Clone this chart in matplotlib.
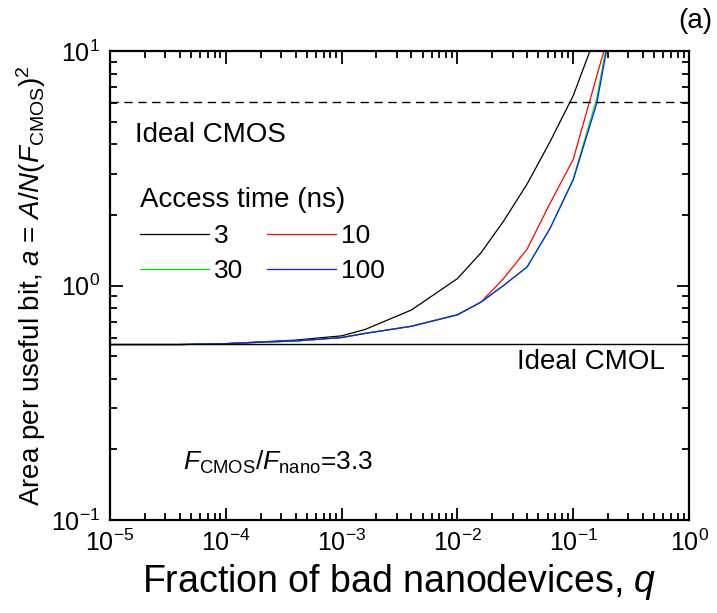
#!/usr/bin/env python3
"""
Area per useful bit vs fraction of bad nanodevices (CMOL memory)
"""
import matplotlib
matplotlib.use("Agg")
import matplotlib.pyplot as plt
from matplotlib.ticker import LogLocator, NullFormatter

plt.rcParams['font.family'] = ['Liberation Sans', 'DejaVu Sans']
plt.rcParams['mathtext.fontset'] = 'custom'
plt.rcParams['mathtext.rm'] = 'Liberation Sans'
plt.rcParams['mathtext.it'] = 'Liberation Sans:italic'
plt.rcParams['mathtext.bf'] = 'Liberation Sans:bold'

# fraction of bad nanodevices
q = [1e-5, 2e-5, 4e-5, 1e-4, 2e-4, 4e-4, 1e-3, 1.6e-3, 4e-3,
     1e-2, 1.6e-2, 2.5e-2, 4e-2, 6.3e-2, 1e-1, 1.6e-1, 2.5e-1]

# area per useful bit for each access time (ns)
a_3 = [0.56, 0.56, 0.56, 0.565, 0.575, 0.585, 0.61, 0.65, 0.786,
       1.07, 1.38, 1.88, 2.71, 4.1, 6.45, 12.0, 25.0]
a_10 = [0.56, 0.56, 0.56, 0.565, 0.573, 0.58, 0.6, 0.625, 0.67,
        0.75, 0.85, 1.07, 1.43, 2.24, 3.45, 7.85, 17.0]
a_30 = [0.56, 0.56, 0.56, 0.565, 0.573, 0.58, 0.6, 0.625, 0.67,
        0.75, 0.85, 1.0, 1.2, 1.75, 2.85, 6.3, 21.0]
a_100 = [0.56, 0.56, 0.56, 0.565, 0.573, 0.58, 0.6, 0.625, 0.67,
         0.75, 0.85, 1.0, 1.2, 1.75, 2.82, 6.0, 20.0]

ideal_cmos = 6.05
ideal_cmol = 0.565

fig = plt.figure(figsize=(7.17, 6.13), dpi=100)
ax = fig.add_axes([0.1534, 0.1517, 0.8076, 0.7651])

l3, = ax.plot(q, a_3, color='black', lw=0.9, label='3')
l10, = ax.plot(q, a_10, color='#ff0000', lw=0.9, label='10')
l30, = ax.plot(q, a_30, color='#00e600', lw=0.9, label='30')
l100, = ax.plot(q, a_100, color='#0022ff', lw=0.9, label='100')

ax.axhline(ideal_cmos, color='black', lw=1.0, ls=(0, (6, 4)))
ax.axhline(ideal_cmol, color='black', lw=1.0)

ax.set_xscale('log')
ax.set_yscale('log')
ax.set_xlim(1e-5, 1)
ax.set_ylim(0.1, 10)

ax.xaxis.set_major_locator(LogLocator(base=10, numticks=10))
ax.xaxis.set_minor_locator(LogLocator(base=10, subs=range(2, 10), numticks=20))
ax.yaxis.set_minor_locator(LogLocator(base=10, subs=range(2, 10), numticks=20))
ax.xaxis.set_minor_formatter(NullFormatter())
ax.yaxis.set_minor_formatter(NullFormatter())

ax.tick_params(which='both', direction='in', top=True, right=True,
               labelsize=18, width=1.3)
ax.tick_params(which='major', length=9, pad=7)
ax.tick_params(which='minor', length=5)
for s in ax.spines.values():
    s.set_linewidth(1.6)

ax.set_xlabel('Fraction of bad nanodevices, $\\it{q}$', fontsize=27, labelpad=4)
ax.set_ylabel('Area per useful bit, $\\mathbf{\\it{a}}$ = $\\it{A/N}$($\\it{F}_{\\rm CMOS}$)$^2$',
              fontsize=20, labelpad=2)

ax.text(0.043, 0.821, 'Ideal CMOS', transform=ax.transAxes, fontsize=20,
        va='center', ha='left')
ax.text(0.958, 0.337, 'Ideal CMOL', transform=ax.transAxes, fontsize=20,
        va='center', ha='right')
ax.text(0.126, 0.123, '$\\it{F}_{\\rm CMOS}$/$\\it{F}_{\\rm nano}$=3.3',
        transform=ax.transAxes, fontsize=19, va='center', ha='left')
fig.text(0.993, 0.966, '(a)', fontsize=20, ha='right', va='center')

# reorder so rows read 3, 10 / 30, 100
leg = ax.legend([l3, l30, l10, l100], ['3', '30', '10', '100'], ncol=2,
                title='Access time (ns)', frameon=False,
                fontsize=19, title_fontsize=20, loc='upper left',
                bbox_to_anchor=(0.02, 0.75), handlelength=2.6,
                columnspacing=0.9, handletextpad=0.2, labelspacing=0.42,
                alignment='left', borderpad=0.2)

fig.savefig('out.png', dpi=100)
